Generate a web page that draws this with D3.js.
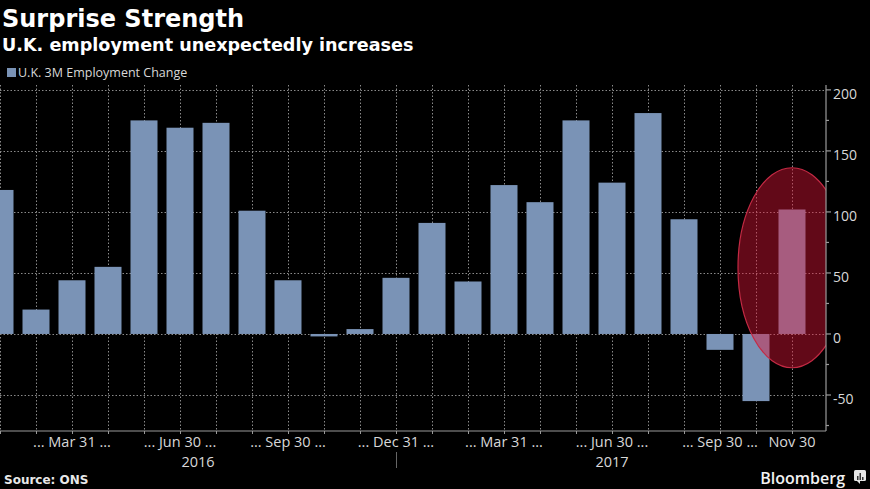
<!DOCTYPE html>
<html><head><meta charset="utf-8">
<script src="https://cdn.jsdelivr.net/npm/d3@7/dist/d3.min.js"></script>
<style>
html,body{margin:0;padding:0;background:#000;}
svg{display:block;}
</style></head>
<body>
<svg id="chart" width="870" height="489"></svg>
<script>
// ---- data ----
const months = ["2016-01","2016-02","2016-03","2016-04","2016-05","2016-06","2016-07","2016-08","2016-09","2016-10","2016-11","2016-12",
                "2017-01","2017-02","2017-03","2017-04","2017-05","2017-06","2017-07","2017-08","2017-09","2017-10","2017-11"];
const values = [118, 20, 44, 55, 175, 169, 173, 101, 44, -2, 4, 46, 91, 43, 122, 108, 175, 124, 181, 94, -13, -55, 102];
const tickMonths = ["2016-03","2016-06","2016-09","2016-12","2017-03","2017-06","2017-09","2017-11"];
const tickLabels = ["... Mar 31 ...","... Jun 30 ...","... Sep 30 ...","... Dec 31 ...","... Mar 31 ...","... Jun 30 ...","... Sep 30 ...","Nov 30"];
const years = ["2016","2017"];
const yTicks = [-50, 0, 50, 100, 150, 200];
const highlight = "2017-11";

(function () {
const svg = d3.select("#chart");
const W = 870, H = 489;
const pL = 0, pR = 826, pT = 85, pB = 431;
const font = "'Open Sans', 'DejaVu Sans', sans-serif";

svg.append("rect").attr("width", W).attr("height", H).attr("fill", "#000");

const x = d3.scaleBand().domain(months).range([-18, 810]).paddingInner(0.25).paddingOuter(0.125);
const y = d3.scaleLinear().domain([-79.5, 204]).range([pB, pT]);
const cx = m => x(m) + x.bandwidth() / 2;
const snap = v => Math.round(v) + 0.5;

// grid
const grid = svg.append("g");
grid.selectAll(".hg").data(yTicks).join("line")
  .attr("x1", pL).attr("x2", pR).attr("y1", d => snap(y(d))).attr("y2", d => snap(y(d)))
  .attr("stroke", "#8a8a8a").attr("stroke-width", 1).attr("stroke-dasharray", "1.5,2");
grid.selectAll(".vg").data(months).join("line")
  .attr("x1", d => snap(cx(d))).attr("x2", d => snap(cx(d))).attr("y1", pT).attr("y2", pB)
  .attr("stroke", "#8a8a8a").attr("stroke-width", 1).attr("stroke-dasharray", "1.5,2");

// bars
svg.append("g").selectAll("rect").data(months).join("rect")
  .attr("x", d => x(d)).attr("width", x.bandwidth())
  .attr("y", (d, i) => y(Math.max(0, values[i])))
  .attr("height", (d, i) => Math.abs(y(values[i]) - y(0)))
  .attr("fill", "#7a93b6");

// highlight ellipse
svg.append("clipPath").attr("id", "plotclip").append("rect")
  .attr("x", pL).attr("y", 0).attr("width", pR - pL).attr("height", pB);
const hi = months.indexOf(highlight);
svg.append("ellipse")
  .attr("clip-path", "url(#plotclip)")
  .attr("cx", cx(highlight)).attr("cy", y(values[hi] / 2) - 4)
  .attr("rx", 54).attr("ry", 100)
  .attr("fill", "rgba(228,22,56,0.43)")
  .attr("stroke", "#c42a44").attr("stroke-width", 1.2);

// right axis
const yAxisG = svg.append("g").attr("transform", `translate(${pR},0)`);
yAxisG.append("line").attr("x1", 0).attr("x2", 0).attr("y1", pT).attr("y2", pB)
  .attr("stroke", "#9a9a9a").attr("stroke-width", 1.2);
const minor = d3.range(-75, 201, 25);
yAxisG.selectAll(".mt").data(minor).join("line")
  .attr("x1", 0).attr("x2", d => d % 50 === 0 ? 5 : 3)
  .attr("y1", d => y(d)).attr("y2", d => y(d))
  .attr("stroke", "#9a9a9a").attr("stroke-width", 1.2);
yAxisG.selectAll("text").data(yTicks).join("text")
  .attr("x", 7).attr("y", d => y(d) + 9)
  .attr("fill", "#d8d8d8").attr("font-family", font).attr("font-size", 14)
  .text(d => d < 0 ? "-" + Math.abs(d) : d);

// bottom axis
const xAxisG = svg.append("g");
xAxisG.append("line").attr("x1", pL).attr("x2", pR).attr("y1", pB).attr("y2", pB)
  .attr("stroke", "#9a9a9a").attr("stroke-width", 1.2);
xAxisG.selectAll(".xt").data(months).join("line")
  .attr("x1", d => snap(cx(d))).attr("x2", d => snap(cx(d))).attr("y1", pB).attr("y2", pB + 3)
  .attr("stroke", "#9a9a9a").attr("stroke-width", 1);
xAxisG.selectAll(".xl").data(tickMonths).join("text")
  .attr("x", d => cx(d)).attr("y", pB + 16).attr("text-anchor", "middle")
  .attr("fill", "#d8d8d8").attr("font-family", font).attr("font-size", 14.5)
  .text((d, i) => tickLabels[i]);
years.forEach(yr => {
  const ms = months.filter(m => m.startsWith(yr));
  const x0 = x(ms[0]) - 4.5, x1 = x(ms[ms.length - 1]) + x.bandwidth() + 4.5;
  xAxisG.append("text").attr("x", (x0 + x1) / 2).attr("y", pB + 36).attr("text-anchor", "middle")
    .attr("fill", "#d8d8d8").attr("font-family", font).attr("font-size", 14.5).text(yr);
});
xAxisG.append("line").attr("x1", snap(cx("2016-12"))).attr("x2", snap(cx("2016-12")))
  .attr("y1", pB + 21).attr("y2", pB + 37).attr("stroke", "#666").attr("stroke-width", 1);

// titles
svg.append("text").attr("x", 2).attr("y", 27).attr("fill", "#fff")
  .attr("font-family", "'DejaVu Sans', sans-serif").attr("font-weight", "bold").attr("font-size", 24)
  .text("Surprise Strength");
svg.append("text").attr("x", 2).attr("y", 51).attr("fill", "#fff")
  .attr("font-family", "'DejaVu Sans', sans-serif").attr("font-weight", "bold").attr("font-size", 17.6)
  .text("U.K. employment unexpectedly increases");

// legend
svg.append("rect").attr("x", 7).attr("y", 68).attr("width", 9).attr("height", 9).attr("fill", "#7a93b6");
svg.append("text").attr("x", 18).attr("y", 77).attr("fill", "#d8d8d8")
  .attr("font-family", font).attr("font-size", 12.5).text("U.K. 3M Employment Change");

// footer
svg.append("text").attr("x", 4).attr("y", 484).attr("fill", "#e8e8e8")
  .attr("font-family", "'DejaVu Sans', sans-serif").attr("font-weight", "bold").attr("font-size", 12)
  .text("Source: ONS");
svg.append("text").attr("x", 845).attr("y", 484).attr("text-anchor", "end").attr("fill", "#f2f2f2")
  .attr("font-family", "'Open Sans', sans-serif").attr("font-weight", "600").attr("font-size", 16)
  .text("Bloomberg");
const ic = svg.append("g").attr("transform", "translate(854,470)");
ic.append("rect").attr("width", 12).attr("height", 11).attr("rx", 1.5).attr("fill", "#e6e6e6");
ic.append("path").attr("d", "M3,11 L6,14 L6,11 Z").attr("fill", "#e6e6e6");
[[3,6],[5.5,3],[8,7]].forEach(([bx, by]) => ic.append("rect").attr("x", bx).attr("y", by).attr("width", 1.5).attr("height", 10 - by).attr("fill", "#333"));
})();
</script>
</body></html>
